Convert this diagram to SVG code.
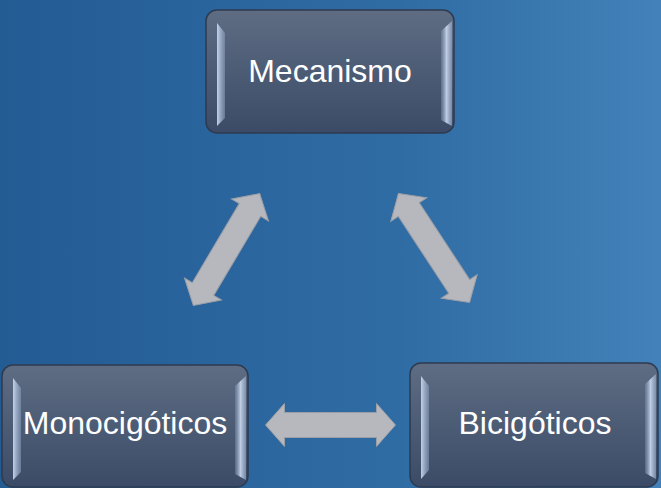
<svg xmlns="http://www.w3.org/2000/svg" width="661" height="488" viewBox="0 0 661 488">
<defs>
<linearGradient id="bg" x1="0" y1="0" x2="1" y2="0">
<stop offset="0" stop-color="#235b93"/>
<stop offset="0.6" stop-color="#306ca4"/>
<stop offset="1" stop-color="#4281b9"/>
</linearGradient>
<linearGradient id="boxfill" x1="0" y1="0" x2="0" y2="1">
<stop offset="0" stop-color="#5e6d83"/>
<stop offset="1" stop-color="#3b4b67"/>
</linearGradient>
<linearGradient id="bevL" x1="0" y1="0" x2="1" y2="0">
<stop offset="0" stop-color="#c9d8ef" stop-opacity="0.95"/>
<stop offset="1" stop-color="#8ea3c2" stop-opacity="0.5"/>
</linearGradient>
<linearGradient id="bevR" x1="0" y1="0" x2="1" y2="0">
<stop offset="0" stop-color="#7f93b2" stop-opacity="0.4"/>
<stop offset="0.5" stop-color="#c4d3ea" stop-opacity="0.95"/>
<stop offset="1" stop-color="#8fa2c0" stop-opacity="0.7"/>
</linearGradient>
<polygon id="arrow" points="-65,0 -46,-21.5 -46,-12.5 46,-12.5 46,-21.5 65,0 46,21.5 46,12.5 -46,12.5 -46,21.5"/>
</defs>
<style>
.box{fill:url(#boxfill);stroke:#2e3a4f;stroke-width:1.5}
.bl{fill:url(#bevL)}
.br{fill:url(#bevR)}
.lbl{font-family:"Liberation Sans",Arial,sans-serif;font-size:32px;fill:#ffffff;text-anchor:middle}
.arr{fill:#b6b8be;stroke:#9c9ea6;stroke-width:1}
</style>
<rect x="0" y="0" width="661" height="488" fill="url(#bg)"/>

<g id="connectors">
<use href="#arrow" class="arr" transform="translate(226.5,249.5) rotate(-59.3)"/>
<use href="#arrow" class="arr" transform="translate(434,248) rotate(56.8)"/>
<use href="#arrow" class="arr" transform="translate(330.5,425)"/>
</g>

<g id="node-mecanismo">
<rect class="box" x="206" y="10" width="248" height="123" rx="11"/>
<polygon class="bl" points="217,23 225,33 225,118 217,126"/>
<polygon class="br" points="452,21 441,31 441,120 452,126"/>
<text class="lbl" x="330" y="82">Mecanismo</text>
</g>

<g id="node-monocigoticos">
<rect class="box" x="2" y="365" width="246" height="122" rx="11"/>
<polygon class="bl" points="13,378 21,388 21,472 13,480"/>
<polygon class="br" points="246,376 235,386 235,474 246,480"/>
<text class="lbl" x="125" y="434">Monocigóticos</text>
</g>

<g id="node-bicigoticos">
<rect class="box" x="410" y="363" width="248" height="124" rx="11"/>
<polygon class="bl" points="421,376 429,386 429,470 421,479"/>
<polygon class="br" points="656,374 645,384 645,473 656,479"/>
<text class="lbl" x="535" y="434">Bicigóticos</text>
</g>
</svg>
